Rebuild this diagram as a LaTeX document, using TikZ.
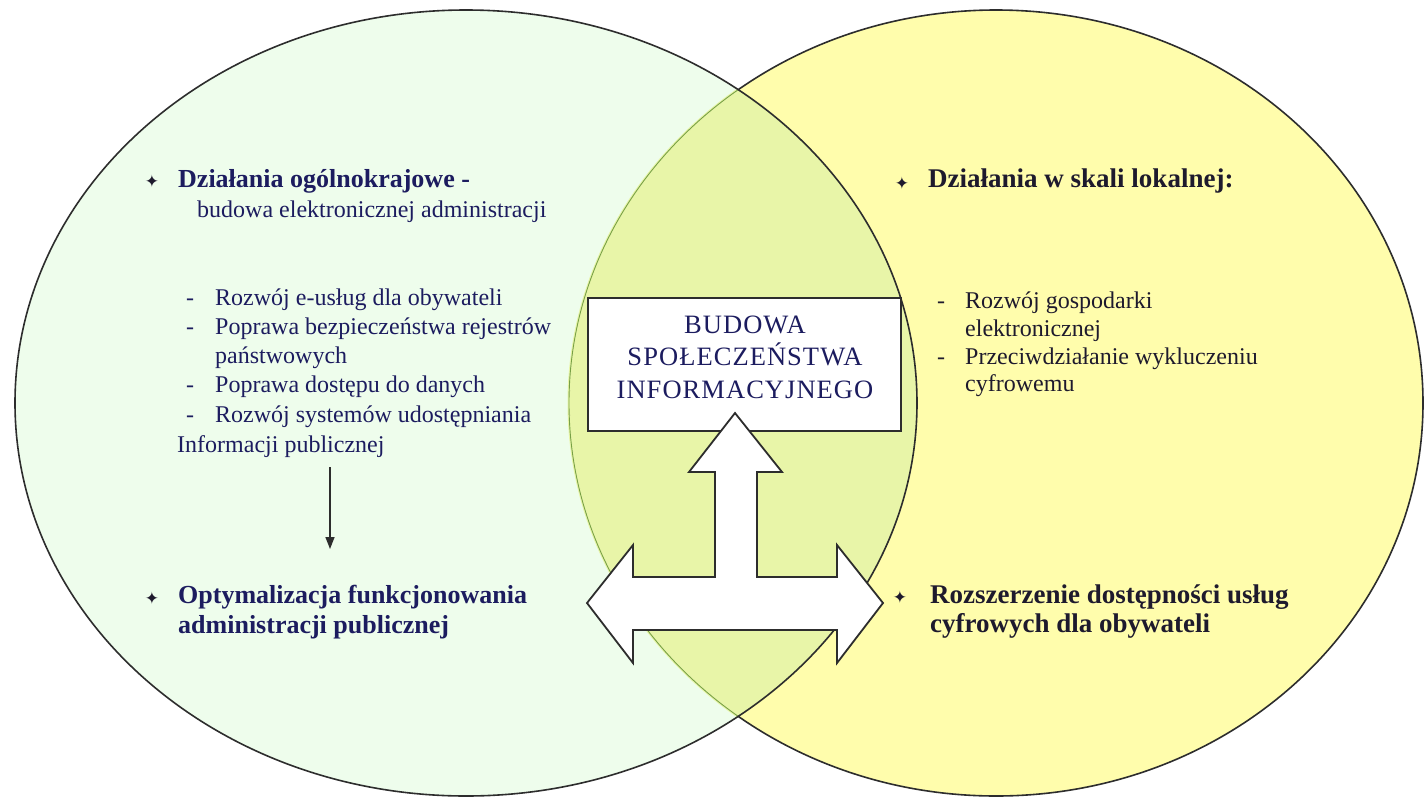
\documentclass[tikz,border=0pt]{standalone}
\usepackage{fontspec}
\setmainfont{Liberation Serif}
\newfontfamily\symfont{DejaVu Sans}
\newfontfamily\spacedfont[LetterSpace=4]{Liberation Serif}
\usetikzlibrary{arrows.meta}
\definecolor{leftfill}{RGB}{238,253,236}
\definecolor{rightfill}{RGB}{255,253,172}
\definecolor{midfill}{RGB}{232,245,168}
\definecolor{edgecol}{RGB}{45,45,45}
\definecolor{thinedge}{RGB}{120,160,70}
\definecolor{navy}{RGB}{28,28,95}
\definecolor{darktxt}{RGB}{30,26,45}
\begin{document}
\begin{tikzpicture}[x=1pt,y=-1pt,
  hdL/.style={anchor=base west,inner sep=0pt,text=navy,font=\fontsize{26}{30}\selectfont\bfseries},
  hdR/.style={anchor=base west,inner sep=0pt,text=darktxt,font=\fontsize{27}{30}\selectfont\bfseries},
  itL/.style={anchor=base west,inner sep=0pt,text=navy,font=\fontsize{24}{29}\selectfont},
  itR/.style={anchor=base west,inner sep=0pt,text=darktxt,font=\fontsize{24}{29}\selectfont},
  bul/.style={inner sep=0pt,text=darktxt,font=\symfont\fontsize{17}{17}\selectfont},
  boxstyle/.style={draw=edgecol,line width=1.8pt,fill=white,minimum width=313pt,minimum height=133pt,inner sep=0pt},
  title/.style={inner sep=0pt,align=center,text=navy,font=\spacedfont\fontsize{26.5}{32.5}\selectfont},
  tarrow/.style={draw=edgecol,line width=1.8pt,fill=white,line join=miter}
]
\useasboundingbox (0,0) rectangle (1425,796);
\fill[white] (0,0) rectangle (1425,796);

% circles
\fill[leftfill] (466,403) ellipse [x radius=451pt, y radius=393pt];
\fill[rightfill] (996,403) ellipse [x radius=427pt, y radius=393pt];
\begin{scope}
  \clip (466,403) ellipse [x radius=451pt, y radius=393pt];
  \fill[midfill] (996,403) ellipse [x radius=427pt, y radius=393pt];
\end{scope}
\draw[edgecol,line width=1.6pt] (996,403) ellipse [x radius=427pt, y radius=393pt];
\begin{scope}
  \clip (466,403) ellipse [x radius=451pt, y radius=393pt];
  \draw[midfill,line width=3pt] (996,403) ellipse [x radius=427pt, y radius=393pt];
  \draw[thinedge,line width=0.9pt] (996,403) ellipse [x radius=427pt, y radius=393pt];
\end{scope}
\draw[edgecol,line width=1.6pt] (466,403) ellipse [x radius=451pt, y radius=393pt];

% central box
\node[boxstyle] (box) at (744.5,364.5) {};
\node[title] (boxtitle) at (745,357) {BUDOWA\\SPOŁECZEŃSTWA\\INFORMACYJNEGO};

% T-shaped arrow
\draw[tarrow] (735,413) -- (782,472) -- (757,472) -- (757,577) -- (837,577) -- (837,545)
  -- (883,603) -- (837,663) -- (837,630) -- (633,630) -- (633,663) -- (587,603)
  -- (633,545) -- (633,577) -- (715,577) -- (715,472) -- (689,472) -- cycle;

% left top
\node[bul] (bL1) at (152,181) {✦};
\node[hdL] (hL1) at (178,187) {Działania ogólnokrajowe -};
\node[itL] (hL1b) at (197,217) {budowa elektronicznej administracji};

\node[itL] (dL1) at (186,305) {-};
\node[itL] (tL1) at (215,305) {Rozwój e-usług dla obywateli};
\node[itL] (dL2) at (186,334) {-};
\node[itL] (tL2) at (215,334) {Poprawa bezpieczeństwa rejestrów};
\node[itL] (tL2b) at (215,363) {państwowych};
\node[itL] (dL3) at (186,392) {-};
\node[itL] (tL3) at (215,392) {Poprawa dostępu do danych};
\node[itL] (dL4) at (186,422) {-};
\node[itL] (tL4) at (215,422) {Rozwój systemów udostępniania};
\node[itL] (tL4b) at (177,452) {Informacji publicznej};

% small arrow
\coordinate (arS) at (330,467);
\coordinate (arE) at (330,549);
\draw[edgecol,line width=1.5pt,-{Triangle[length=12pt,width=9pt]}] (arS) -- (arE);

% left bottom
\node[bul] (bL2) at (152,598) {✦};
\node[hdL] (hL2) at (178,603) {Optymalizacja funkcjonowania};
\node[hdL] (hL2b) at (178,633) {administracji publicznej};

% right top
\node[bul] (bR1) at (902,183) {✦};
\node[hdR] (hR1) at (928,187) {Działania w skali lokalnej:};
\node[itR] (dR1) at (937,308) {-};
\node[itR] (tR1) at (965,308) {Rozwój gospodarki};
\node[itR] (tR1b) at (965,336) {elektronicznej};
\node[itR] (dR2) at (937,364) {-};
\node[itR] (tR2) at (965,364) {Przeciwdziałanie wykluczeniu};
\node[itR] (tR2b) at (965,391) {cyfrowemu};

% right bottom
\node[bul] (bR2) at (900,597) {✦};
\node[hdR] (hR2) at (930,603) {Rozszerzenie dostępności usług};
\node[hdR] (hR2b) at (930,632) {cyfrowych dla obywateli};
\end{tikzpicture}
\end{document}
